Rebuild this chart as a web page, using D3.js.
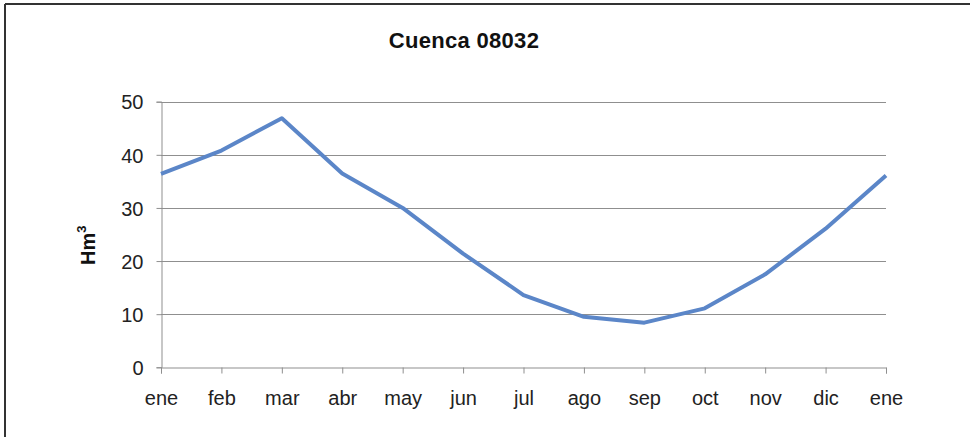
<!DOCTYPE html>
<html>
<head>
<meta charset="utf-8">
<script src="https://cdn.jsdelivr.net/npm/d3@7"></script>
<style>
  body { margin: 0; background: #fff; }
  svg { display: block; }
  .tick text { font-family: "Liberation Sans", Arial, sans-serif; font-size: 20px; fill: #222; }
  .title { font-family: "Liberation Sans", Arial, sans-serif; font-size: 22px; font-weight: bold; fill: #111; }
  .ylabel { font-family: "Liberation Sans", Arial, sans-serif; font-size: 20px; font-weight: bold; fill: #111; }
</style>
</head>
<body>
<script>
//Data
const months = ["ene", "feb", "mar", "abr", "may", "jun", "jul", "ago", "sep", "oct", "nov", "dic", "ene "];
const volume = [36.4, 40.8, 46.9, 36.5, 30.0, 21.4, 13.6, 9.5, 8.4, 11.1, 17.5, 26.1, 36.1];
const yTicks = [0, 10, 20, 30, 40, 50];

//Layout
const width = 970;
const height = 437;
const plotLeft = 161, plotRight = 886, plotTop = 101.7, plotBottom = 367.3;

const svg = d3.select("body")
    .append("svg")
    .attr("width", width)
    .attr("height", height);

//Frame (top and left edges only visible)
svg.append("line")
    .attr("x1", 5).attr("x2", width).attr("y1", 4).attr("y2", 4)
    .attr("stroke", "#333").attr("stroke-width", 2);
svg.append("line")
    .attr("x1", 5).attr("x2", 5).attr("y1", 4).attr("y2", height)
    .attr("stroke", "#333").attr("stroke-width", 2);

//Scales
const xScale = d3.scalePoint()
    .domain(months)
    .range([plotLeft, plotRight]);

const yScale = d3.scaleLinear()
    .domain([0, 50])
    .range([plotBottom, plotTop]);

//Gridlines
svg.append("g")
    .selectAll("line")
    .data(yTicks.filter(d => d > 0))
    .join("line")
    .attr("x1", plotLeft)
    .attr("x2", plotRight)
    .attr("y1", d => Math.round(yScale(d)) + 0.5)
    .attr("y2", d => Math.round(yScale(d)) + 0.5)
    .attr("stroke", "#8f8f8f")
    .attr("stroke-width", 1);

//Axes
const bottomAxis = d3.axisBottom(xScale)
    .tickSize(6)
    .tickPadding(17)
    .tickFormat(d => d.trim());

const leftAxis = d3.axisLeft(yScale)
    .tickValues(yTicks)
    .tickSize(5)
    .tickPadding(13);

const gx = svg.append("g")
    .attr("transform", "translate(0," + (Math.round(plotBottom) + 0.5) + ")")
    .call(bottomAxis);

const gy = svg.append("g")
    .attr("transform", "translate(" + (plotLeft + 0.5) + ",0)")
    .call(leftAxis);

[gx, gy].forEach(g => {
    g.select(".domain").attr("stroke", "#8f8f8f");
    g.selectAll(".tick line").attr("stroke", "#8f8f8f");
});
gy.selectAll(".tick text").attr("dy", "0.36em");

//Line
const line = d3.line()
    .x((d, i) => xScale(months[i]))
    .y(d => yScale(d));

svg.append("path")
    .datum(volume)
    .attr("d", line)
    .attr("fill", "none")
    .attr("stroke", "#5b86c8")
    .attr("stroke-width", 4)
    .attr("stroke-linejoin", "round");

//Title
svg.append("text")
    .attr("class", "title")
    .attr("x", 464)
    .attr("y", 48)
    .attr("text-anchor", "middle")
    .style("letter-spacing", "0.3px")
    .text("Cuenca 08032");

//Y label
const yl = svg.append("text")
    .attr("class", "ylabel")
    .attr("transform", "translate(95,265) rotate(-90)");
yl.append("tspan").text("Hm");
yl.append("tspan").attr("font-size", "13px").attr("dy", -9).text("3");
</script>
</body>
</html>
